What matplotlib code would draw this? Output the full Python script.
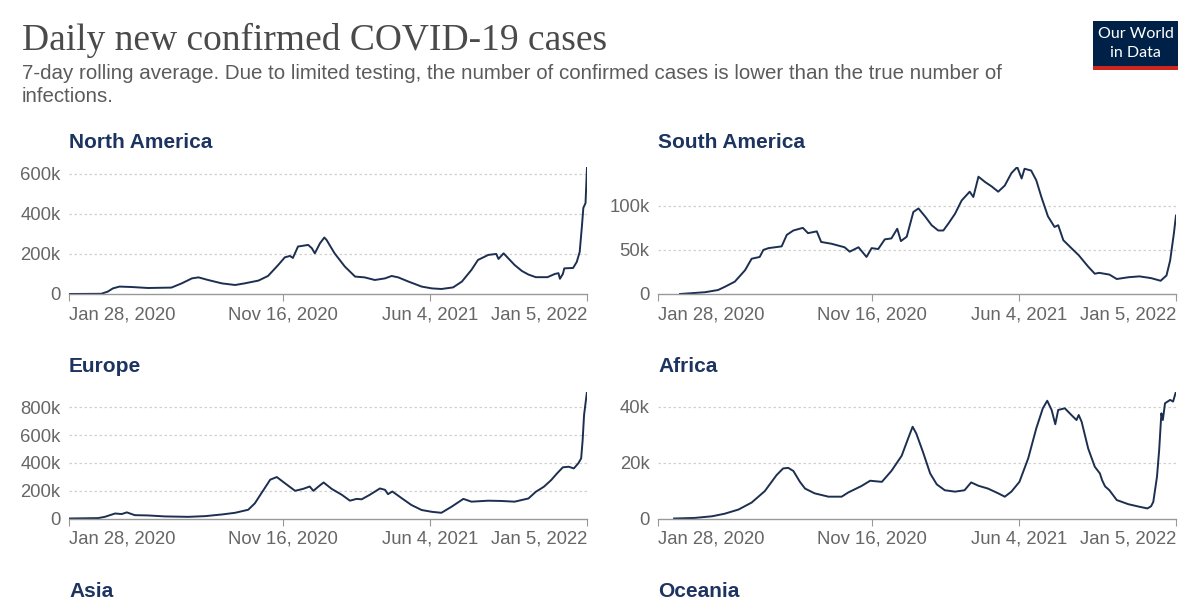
import pandas as pd
import matplotlib
matplotlib.use("Agg")
import matplotlib.pyplot as plt
from matplotlib.patches import Rectangle
from matplotlib.ticker import FuncFormatter

# daily new cases, 7-day rolling average, in thousands
na_dates = ["2020-01-28", "2020-03-12", "2020-03-21", "2020-03-28", "2020-04-06", "2020-04-22",
            "2020-05-15", "2020-06-16", "2020-06-30", "2020-07-14", "2020-07-23", "2020-08-05",
            "2020-08-24", "2020-09-11", "2020-09-24", "2020-10-13", "2020-10-26", "2020-11-09",
            "2020-11-18", "2020-11-25", "2020-11-29", "2020-12-06", "2020-12-20", "2020-12-25",
            "2020-12-29", "2021-01-05", "2021-01-11", "2021-01-14", "2021-01-25", "2021-02-08",
            "2021-02-22", "2021-03-07", "2021-03-21", "2021-04-04", "2021-04-13", "2021-04-22",
            "2021-05-06", "2021-05-24", "2021-06-07", "2021-06-20", "2021-07-06", "2021-07-18",
            "2021-07-31", "2021-08-09", "2021-08-23", "2021-09-03", "2021-09-06", "2021-09-13",
            "2021-09-28", "2021-10-08", "2021-10-17", "2021-10-27", "2021-11-12", "2021-11-22",
            "2021-11-27", "2021-11-29", "2021-12-03", "2021-12-05", "2021-12-17", "2021-12-22",
            "2021-12-26", "2021-12-29", "2021-12-31", "2022-01-03", "2022-01-05"]
na_cases = [0, 1, 12, 28, 37, 35,
            30, 32, 53, 78, 83, 70,
            53, 45, 53, 67, 90, 145,
            183, 190, 180, 237, 245, 228,
            203, 253, 282, 270, 203, 137,
            87, 83, 70, 78, 90, 83,
            62, 37, 28, 25, 33, 62,
            120, 170, 195, 200, 175, 203,
            145, 115, 97, 84, 84, 100,
            104, 76, 100, 128, 130, 160,
            210, 336, 430, 454, 634]

sa_dates = ["2020-02-27", "2020-04-01", "2020-04-19", "2020-04-28", "2020-05-12", "2020-05-26",
            "2020-06-04", "2020-06-15", "2020-06-20", "2020-06-27", "2020-07-15", "2020-07-22",
            "2020-07-31", "2020-08-13", "2020-08-20", "2020-09-01", "2020-09-07", "2020-09-21",
            "2020-10-09", "2020-10-16", "2020-10-28", "2020-11-08", "2020-11-15", "2020-11-24",
            "2020-12-03", "2020-12-12", "2020-12-20", "2020-12-25", "2021-01-02", "2021-01-11",
            "2021-01-18", "2021-01-27", "2021-02-05", "2021-02-14", "2021-02-21", "2021-02-28",
            "2021-03-09", "2021-03-18", "2021-03-29", "2021-04-03", "2021-04-10", "2021-04-19",
            "2021-04-28", "2021-05-07", "2021-05-16", "2021-05-25", "2021-06-02", "2021-06-08",
            "2021-06-12", "2021-06-21", "2021-06-28", "2021-07-05", "2021-07-14", "2021-07-23",
            "2021-07-28", "2021-08-04", "2021-08-15", "2021-08-25", "2021-09-07", "2021-09-16",
            "2021-09-22", "2021-10-06", "2021-10-16", "2021-11-01", "2021-11-16", "2021-12-02",
            "2021-12-15", "2021-12-23", "2021-12-28", "2022-01-02", "2022-01-05"]
sa_cases = [0, 2, 4.5, 8, 14, 27,
            40, 42, 50, 52, 54, 67,
            72, 75, 69, 71, 59, 57,
            53, 48, 53, 42, 52, 51,
            62, 63, 74, 60, 65, 93,
            97, 88, 78, 72, 72, 80,
            91, 106, 116, 110, 133, 127,
            122, 116, 123, 137, 144, 131,
            142, 140, 129, 110, 88, 76,
            78, 61, 52, 44, 31, 23,
            24, 22, 17, 19, 20, 18,
            15, 21, 38, 68, 89]

eu_dates = ["2020-01-28", "2020-03-08", "2020-03-17", "2020-03-31", "2020-04-09", "2020-04-16",
            "2020-04-27", "2020-05-15", "2020-06-07", "2020-07-09", "2020-08-01", "2020-08-24",
            "2020-09-11", "2020-09-29", "2020-10-08", "2020-10-17", "2020-10-29", "2020-11-07",
            "2020-11-18", "2020-12-02", "2020-12-13", "2020-12-22", "2020-12-27", "2021-01-03",
            "2021-01-10", "2021-01-21", "2021-02-04", "2021-02-15", "2021-02-24", "2021-03-03",
            "2021-03-14", "2021-03-28", "2021-04-04", "2021-04-08", "2021-04-14", "2021-04-27",
            "2021-05-10", "2021-05-24", "2021-06-07", "2021-06-20", "2021-07-04", "2021-07-20",
            "2021-07-31", "2021-08-23", "2021-09-10", "2021-09-28", "2021-10-17", "2021-10-27",
            "2021-11-07", "2021-11-17", "2021-11-25", "2021-12-03", "2021-12-11", "2021-12-18",
            "2021-12-24", "2021-12-28", "2021-12-30", "2022-01-01", "2022-01-05"]
eu_cases = [0, 3, 12, 36, 32, 44,
            24, 22, 15, 12, 17, 29,
            41, 63, 109, 182, 279, 298,
            254, 199, 213, 230, 199, 230,
            259, 213, 170, 128, 141, 138,
            170, 216, 206, 175, 194, 145,
            97, 61, 48, 41, 85, 141,
            121, 128, 126, 121, 144, 192,
            228, 276, 324, 368, 372, 360,
            396, 432, 560, 745, 913]

af_dates = ["2020-02-19", "2020-03-18", "2020-04-11", "2020-04-28", "2020-05-17", "2020-06-04",
            "2020-06-22", "2020-07-08", "2020-07-17", "2020-07-24", "2020-07-31", "2020-08-09",
            "2020-08-16", "2020-08-29", "2020-09-17", "2020-10-05", "2020-10-14", "2020-11-01",
            "2020-11-13", "2020-11-29", "2020-12-12", "2020-12-26", "2021-01-04", "2021-01-10",
            "2021-01-15", "2021-01-24", "2021-02-03", "2021-02-12", "2021-02-23", "2021-03-09",
            "2021-03-22", "2021-03-31", "2021-04-10", "2021-04-23", "2021-05-07", "2021-05-16",
            "2021-05-25", "2021-06-05", "2021-06-17", "2021-06-28", "2021-07-07", "2021-07-13",
            "2021-07-19", "2021-07-24", "2021-07-28", "2021-08-06", "2021-08-15", "2021-08-22",
            "2021-08-25", "2021-08-29", "2021-09-07", "2021-09-16", "2021-09-23", "2021-09-26",
            "2021-09-30", "2021-10-06", "2021-10-16", "2021-11-01", "2021-11-16", "2021-11-27",
            "2021-12-02", "2021-12-05", "2021-12-10", "2021-12-13", "2021-12-16", "2021-12-18",
            "2021-12-21", "2021-12-28", "2022-01-01", "2022-01-05"]
af_cases = [0, 0.2, 0.8, 1.7, 3.2, 5.7,
            9.8, 15.5, 17.9, 18.1, 17, 13.1,
            10.7, 9, 7.8, 7.8, 9.3, 11.6,
            13.5, 13.1, 17, 22.4, 28.7, 32.8,
            30.4, 23.9, 16.1, 12.2, 10.1, 9.6,
            10.1, 12.9, 11.7, 10.7, 9, 7.8,
            9.6, 13.1, 21.5, 32.2, 39.4, 42.1,
            38.8, 33.7, 38.8, 39.4, 37, 35.2,
            37, 34.6, 25, 18.5, 16.1, 13.7,
            11.5, 10.1, 6.6, 5.1, 4.2, 3.6,
            4.4, 6, 14.9, 24.5, 37.6, 35.2,
            41.2, 42.4, 41.8, 45.4]

na_yticks = [0, 200, 400, 600]
sa_yticks = [0, 50, 100]
eu_yticks = [0, 200, 400, 600, 800]
af_yticks = [0, 20, 40]

x_ticks = ["2020-01-28", "2020-11-16", "2021-06-04", "2022-01-05"]
x_tick_labels = ["Jan 28, 2020", "Nov 16, 2020", "Jun 4, 2021", "Jan 5, 2022"]

LINE = "#1d2f50"
TITLE_BLUE = "#1d3461"
GREY = "#5b5b5b"
TICK_GREY = "#666666"

fig = plt.figure(figsize=(12, 6), dpi=100)
fig.patch.set_facecolor("white")

fig.text(22 / 1200, 1 - 50 / 600, "Daily new confirmed COVID-19 cases",
         fontfamily="Liberation Serif", fontsize=27, color="#4a4a4a", va="baseline")
fig.text(22 / 1200, 1 - 79 / 600,
         "7-day rolling average. Due to limited testing, the number of confirmed cases is lower than the true number of",
         fontfamily="Liberation Sans", fontsize=14.8, color=GREY, va="baseline")
fig.text(22 / 1200, 1 - 102 / 600, "infections.",
         fontfamily="Liberation Sans", fontsize=14.8, color=GREY, va="baseline")

# Our World in Data logo
fig.patches.append(Rectangle((1093 / 1200, 1 - 66 / 600), 85 / 1200, 45 / 600,
                             transform=fig.transFigure, facecolor="#002147", edgecolor="none"))
fig.patches.append(Rectangle((1093 / 1200, 1 - 70 / 600), 85 / 1200, 4 / 600,
                             transform=fig.transFigure, facecolor="#ce261e", edgecolor="none"))
fig.text(1135.5 / 1200, 1 - 34 / 600, "Our World", fontfamily="Lato", fontsize=11.5,
         color="white", ha="center", va="center")
fig.text(1135.5 / 1200, 1 - 53 / 600, "in Data", fontfamily="Lato", fontsize=11.5,
         color="white", ha="center", va="center")


def kfmt(v, pos):
    return "0" if v == 0 else f"{v:.0f}k"


panels = [
    ("North America", na_dates, na_cases, na_yticks, 69, 294),
    ("South America", sa_dates, sa_cases, sa_yticks, 658, 294),
    ("Europe", eu_dates, eu_cases, eu_yticks, 69, 518.5),
    ("Africa", af_dates, af_cases, af_yticks, 658, 518.5),
]

xt = pd.to_datetime(x_ticks)

for title, dates, cases, yticks, left, bottom in panels:
    ax = fig.add_axes([left / 1200, 1 - bottom / 600, 518 / 1200, 127 / 600])
    ax.plot(pd.to_datetime(dates), cases, color=LINE, lw=1.4, solid_joinstyle="round")
    ax.set_xlim(xt[0], xt[-1])
    ax.set_ylim(0, max(cases))
    ax.set_yticks(yticks)
    ax.yaxis.set_major_formatter(FuncFormatter(kfmt))
    ax.set_xticks(xt)
    ax.set_xticklabels(x_tick_labels)
    labels = ax.get_xticklabels()
    labels[0].set_ha("left")
    labels[-1].set_ha("right")
    for t in yticks[1:]:
        ax.axhline(t, color="#d0d0d0", lw=0.9, ls=(0, (2, 2)), zorder=0)
    for s in ["top", "right", "left"]:
        ax.spines[s].set_visible(False)
    ax.spines["bottom"].set_color("#999999")
    ax.spines["bottom"].set_linewidth(1)
    ax.tick_params(axis="x", length=5, color="#999999", labelsize=13.3, labelcolor=TICK_GREY, pad=4)
    ax.tick_params(axis="y", length=0, labelsize=13.3, labelcolor=TICK_GREY, pad=6)
    for lab in ax.get_xticklabels() + ax.get_yticklabels():
        lab.set_fontfamily("Liberation Sans")
    ax.set_facecolor("none")
    fig.text(left / 1200, 1 - (bottom - 146) / 600, title, fontfamily="Liberation Sans",
             fontweight="bold", fontsize=15, color=TITLE_BLUE, va="baseline")

# third row is cut off by the frame: only the titles show
fig.text(69 / 1200, 1 - 597 / 600, "Asia", fontfamily="Liberation Sans",
         fontweight="bold", fontsize=15, color=TITLE_BLUE, va="baseline")
fig.text(658 / 1200, 1 - 597 / 600, "Oceania", fontfamily="Liberation Sans",
         fontweight="bold", fontsize=15, color=TITLE_BLUE, va="baseline")

fig.savefig("out.png", dpi=100)
